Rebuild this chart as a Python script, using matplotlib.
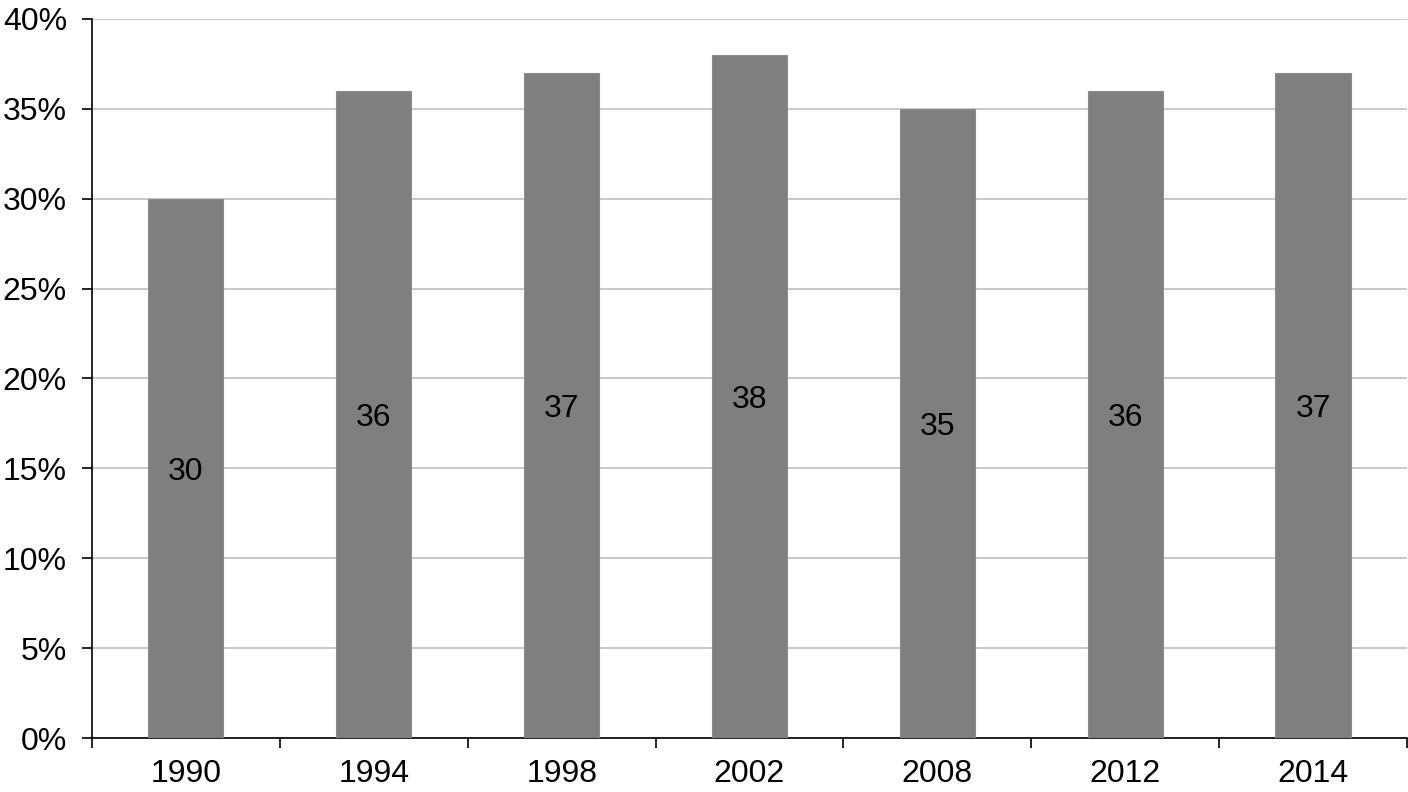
import matplotlib
matplotlib.use('Agg')
import matplotlib.pyplot as plt
import numpy as np
from matplotlib.ticker import FixedLocator, FuncFormatter

# data
years = ['1990', '1994', '1998', '2002', '2008', '2012', '2014']
values = [30, 36, 37, 38, 35, 36, 37]
y_ticks = [0, 5, 10, 15, 20, 25, 30, 35, 40]

plt.rcParams['font.family'] = ['Liberation Sans', 'DejaVu Sans']
FS = 23

fig = plt.figure(figsize=(14.08, 7.92), dpi=100)
ax = fig.add_axes([92 / 1408, 1 - 738 / 792, (1407 - 92) / 1408, (738 - 19) / 792])

x = np.arange(len(years))
bars = ax.bar(x, values, width=0.4, color='#7f7f7f', edgecolor='#8c8c8c', linewidth=0.8, zorder=3)

# value labels in the middle of each bar
for xi, v in zip(x, values):
    ax.text(xi, v / 2 - 0.2, str(v), ha='center', va='center', fontsize=FS, color='black', zorder=4)

ax.set_xlim(-0.5, len(years) - 0.5)
ax.set_ylim(0, 40)

ax.set_yticks(y_ticks)
ax.yaxis.set_major_formatter(FuncFormatter(lambda v, p: f'{int(v)}%'))
ax.tick_params(axis='y', length=7, width=1.2, pad=11, labelsize=FS)

ax.set_xticks(x)
ax.set_xticklabels(years)
ax.xaxis.set_minor_locator(FixedLocator(np.arange(len(years) + 1) - 0.5))
ax.tick_params(axis='x', which='major', length=0, pad=15, labelsize=FS)
ax.tick_params(axis='x', which='minor', length=7, width=1.2)

ax.grid(axis='y', color='#c0c0c0', linewidth=1.2, zorder=0)
for s in ['top', 'right']:
    ax.spines[s].set_visible(False)
ax.spines['left'].set_linewidth(1.2)
ax.spines['bottom'].set_linewidth(1.2)

fig.savefig('out.png', dpi=100)
